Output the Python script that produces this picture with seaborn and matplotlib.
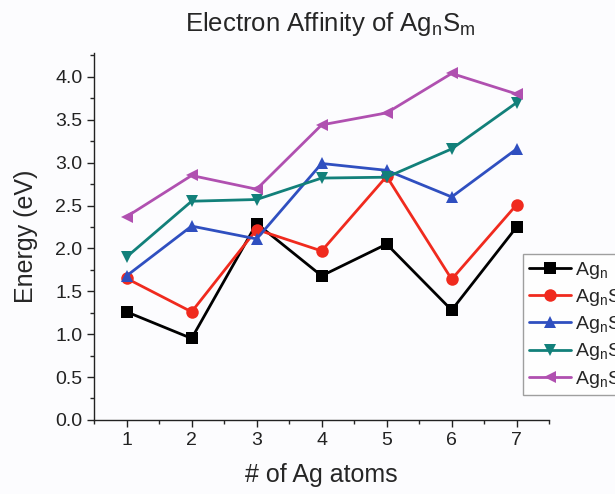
import numpy as np
import pandas as pd
import matplotlib
matplotlib.use("Agg")
import matplotlib.pyplot as plt
import seaborn as sns
from matplotlib.ticker import MultipleLocator

# data
n_atoms = [1, 2, 3, 4, 5, 6, 7]
labels = ["Ag$_\\mathrm{n}$", "Ag$_\\mathrm{n}$S", "Ag$_\\mathrm{n}$S$_\\mathrm{2}$",
          "Ag$_\\mathrm{n}$S$_\\mathrm{3}$", "Ag$_\\mathrm{n}$S$_\\mathrm{4}$"]
ag_n = [1.26, 0.95, 2.29, 1.68, 2.05, 1.28, 2.25]
ag_n_s = [1.65, 1.26, 2.22, 1.97, 2.84, 1.64, 2.51]
ag_n_s2 = [1.68, 2.26, 2.11, 2.99, 2.91, 2.60, 3.16]
ag_n_s3 = [1.90, 2.55, 2.57, 2.82, 2.83, 3.16, 3.70]
ag_n_s4 = [2.37, 2.85, 2.69, 3.44, 3.58, 4.04, 3.80]

colors = ["#000000", "#f02a1e", "#2f4fc0", "#12807a", "#b050b0"]
markers = ["s", "o", "^", "v", "<"]

df = pd.DataFrame({
    "atoms": n_atoms * 5,
    "energy": ag_n + ag_n_s + ag_n_s2 + ag_n_s3 + ag_n_s4,
    "series": [lab for lab in labels for _ in n_atoms],
})

sns.set_style("ticks")
plt.rcParams['font.family'] = ['Liberation Sans', 'DejaVu Sans']
plt.rcParams['mathtext.fontset'] = 'custom'
plt.rcParams['mathtext.rm'] = 'Liberation Sans'

fig = plt.figure(figsize=(6.15, 4.94), dpi=100)
fig.patch.set_facecolor("#fcfcfe")
ax = fig.add_axes([0.153, 0.150, 0.740, 0.743])
ax.set_facecolor("#fcfcfe")

sns.lineplot(data=df, x="atoms", y="energy", hue="series", style="series",
             palette=dict(zip(labels, colors)), markers=dict(zip(labels, markers)),
             dashes=False, linewidth=2, markersize=9, markeredgewidth=0,
             ax=ax, legend=False)

ax.set_xlim(0.5, 7.5)
ax.set_ylim(0, 4.28)
ax.xaxis.set_major_locator(MultipleLocator(1))
ax.xaxis.set_minor_locator(MultipleLocator(0.5))
ax.yaxis.set_major_locator(MultipleLocator(0.5))
ax.yaxis.set_minor_locator(MultipleLocator(0.25))
ax.yaxis.set_major_formatter(matplotlib.ticker.FormatStrFormatter("%.1f"))
ax.tick_params(which="major", direction="out", length=5, width=1, labelsize=14, colors="#222222")
ax.tick_params(which="minor", direction="out", length=3, width=1)
for s in ["top", "right"]:
    ax.spines[s].set_visible(False)
for s in ["left", "bottom"]:
    ax.spines[s].set_linewidth(1)
    ax.spines[s].set_color("#222222")

ax.set_xlabel("# of Ag atoms", fontsize=18, labelpad=10)
ax.set_ylabel("Energy (eV)", fontsize=18, labelpad=12)
fig.text(0.537, 0.952, "Electron Affinity of Ag$_\\mathrm{n}$S$_\\mathrm{m}$",
         fontsize=18.5, ha="center", va="center")

handles = [plt.Line2D([], [], color=c, marker=m, linewidth=2, markersize=9, markeredgewidth=0)
           for c, m in zip(colors, markers)]
leg = fig.legend(handles, labels, loc="upper left", bbox_to_anchor=(0.850, 0.486),
                 fontsize=14, frameon=True, fancybox=False, handlelength=2.2,
                 handletextpad=0.2, labelspacing=0.32, borderpad=0.3, borderaxespad=0)
leg.get_frame().set_edgecolor("#888888")
leg.get_frame().set_linewidth(1)

fig.savefig("out.png", dpi=100, facecolor=fig.get_facecolor())
